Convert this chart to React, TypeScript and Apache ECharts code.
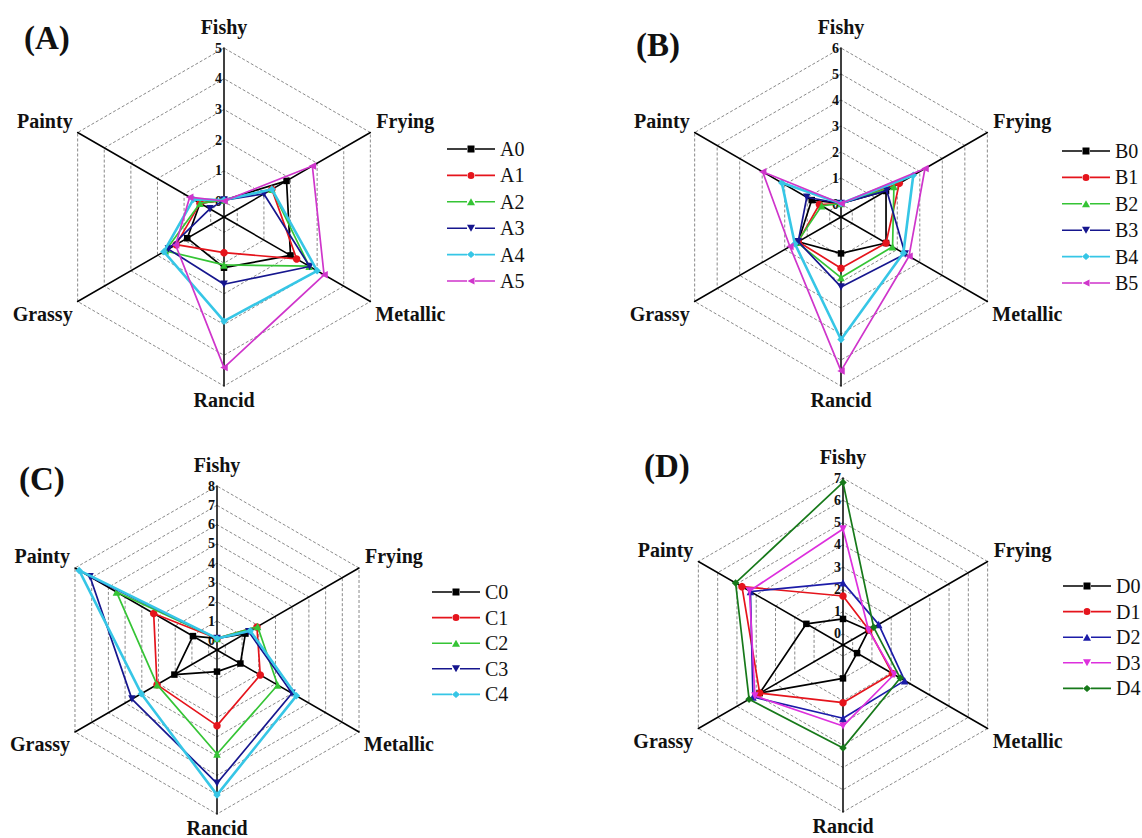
import React, { useEffect, useRef } from 'react';
import * as echarts from 'echarts';

// Attribute axes, clockwise from the top
const AXES = ['Fishy', 'Frying', 'Metallic', 'Rancid', 'Grassy', 'Painty'];
const PANEL_LABELS = ['(A)', '(B)', '(C)', '(D)'];
const AXIS_MAX = [5, 6, 8, 7];
const AXIS_MIN = -0.5;

// values in AXES order: Fishy, Frying, Metallic, Rancid, Grassy, Painty
const A_NAMES = ['A0', 'A1', 'A2', 'A3', 'A4', 'A5'];
const A0 = [0.05, 1.85, 2.0, 1.15, 0.88, 0.4];
const A1 = [0.05, 1.3, 2.23, 0.66, 1.3, 0.4];
const A2 = [0.05, 1.3, 2.7, 1.06, 1.7, 0.4];
const A3 = [0.05, 1.0, 2.72, 1.69, 1.59, 0.03];
const A4 = [0.05, 1.3, 3.0, 2.89, 1.76, 0.65];
const A5 = [0.02, 2.82, 3.26, 4.4, 1.32, 0.79];

const B_NAMES = ['B0', 'B1', 'B2', 'B3', 'B4', 'B5'];
const B0 = [0.02, 1.5, 1.5, 0.9, 1.4, 0.8];
const B1 = [0.02, 2.09, 1.5, 1.47, 1.4, 0.46];
const B2 = [0.02, 1.85, 1.79, 1.83, 1.45, 0.36];
const B3 = [0.02, 1.53, 2.35, 2.19, 1.4, 1.02];
const B4 = [0.02, 2.71, 2.27, 4.21, 1.55, 2.13];
const B5 = [0.02, 3.23, 2.52, 5.42, 1.77, 2.98];

const C_NAMES = ['C0', 'C1', 'C2', 'C3', 'C4'];
const C0 = [0.1, 1.2, 0.9, 0.62, 2.05, 0.94];
const C1 = [0.1, 1.89, 2.09, 3.42, 3.09, 3.29];
const C2 = [0.1, 1.93, 3.13, 4.89, 3.09, 5.52];
const C3 = [0.1, 1.4, 3.99, 6.41, 4.59, 7.1];
const C4 = [0.1, 1.49, 4.25, 7.01, 4.03, 7.75];

const D_NAMES = ['D0', 'D1', 'D2', 'D3', 'D4'];
const D0 = [0.67, 0.83, 0.23, 1.0, 3.82, 1.4];
const D1 = [1.7, 0.85, 2.06, 2.09, 3.82, 4.74];
const D2 = [2.3, 1.35, 2.7, 2.79, 4.17, 4.3];
const D3 = [4.71, 0.83, 2.15, 3.14, 4.07, 4.35];
const D4 = [6.8, 1.09, 2.47, 4.13, 4.37, 5.07];

const PANEL_NAMES = [A_NAMES, B_NAMES, C_NAMES, D_NAMES];
const PANEL_VALUES = [
  [A0, A1, A2, A3, A4, A5],
  [B0, B1, B2, B3, B4, B5],
  [C0, C1, C2, C3, C4],
  [D0, D1, D2, D3, D4],
];

// ---- styles / layout ----
const BLACK = '#000000';
const RED = '#e5141c';
const GREEN = '#35c435';
const NAVY = '#16168e';
const CYAN = '#36c6e6';
const MAGENTA = '#cf35cb';
const BLUE_D = '#1c1ca8';
const MAGENTA_D = '#dd30dd';
const DKGREEN = '#17791a';

const COLORS_ABC = [BLACK, RED, GREEN, NAVY, CYAN, MAGENTA];
const COLORS_D = [BLACK, RED, BLUE_D, MAGENTA_D, DKGREEN];
const SYMS_ABC = ['square', 'circle', 'up', 'down', 'diamond', 'left'];
const SYMS_D = ['square', 'circle', 'up', 'down', 'diamond'];
const PANEL_COLORS = [COLORS_ABC, COLORS_ABC, COLORS_ABC, COLORS_D];
const PANEL_SYMS = [SYMS_ABC, SYMS_ABC, SYMS_ABC, SYMS_D];

const LAYOUT = [
  { cx: 224, cy: 217, r: 169, title: [24, 21], legend: [447, 139], gap: 6.4 },
  { cx: 841, cy: 217, r: 169, title: [636, 28], legend: [1062, 141], gap: 6.4 },
  { cx: 217, cy: 650, r: 164, title: [19, 462], legend: [432, 582], gap: 5.6 },
  { cx: 843, cy: 645, r: 167, title: [644, 449], legend: [1063, 576], gap: 5.6 },
];

const SERIF = '"Liberation Serif", "Times New Roman", serif';

const SERIES_SYMBOL: Record<string, string> = {
  square: 'rect',
  circle: 'circle',
  up: 'triangle',
  down: 'path://M0,0 L10,0 L5,9 Z',
  diamond: 'diamond',
  left: 'path://M0,5 L9,0 L9,10 Z',
};

const LINE_PART = 'M0,2.7 H20 V4.3 H0 Z M28,2.7 H48 V4.3 H28 Z ';
const LEGEND_ICON: Record<string, string> = {
  square: 'path://' + LINE_PART + 'M20.5,0 H27.5 V7 H20.5 Z',
  circle: 'path://' + LINE_PART + 'M20.5,3.5 A3.5,3.5 0 1,1 27.5,3.5 A3.5,3.5 0 1,1 20.5,3.5 Z',
  up: 'path://' + LINE_PART + 'M24,0 L28,7 L20,7 Z',
  down: 'path://' + LINE_PART + 'M20,0 L28,0 L24,7 Z',
  diamond: 'path://' + LINE_PART + 'M24,0 L28,3.5 L24,7 L20,3.5 Z',
  left: 'path://' + LINE_PART + 'M20.5,3.5 L27.5,0 L27.5,7 Z',
};

// ECharts places radar indicators counter-clockwise from the top
const CCW_ORDER = [0, 5, 4, 3, 2, 1];

function buildOption() {
  const radar: any[] = [];
  const series: any[] = [];
  const legend: any[] = [];
  const title: any[] = [];
  const graphic: any[] = [];

  LAYOUT.forEach((L, p) => {
    const max = AXIS_MAX[p];
    radar.push({
      center: [L.cx, L.cy],
      radius: L.r,
      startAngle: 90,
      shape: 'polygon',
      splitNumber: Math.round((max - AXIS_MIN) / 0.5),
      axisName: { show: false },
      axisLine: { lineStyle: { color: '#000', width: 1.5 } },
      axisTick: { show: false },
      splitLine: {
        lineStyle: { color: ['rgba(0,0,0,0)', '#7c7c7c'], type: [3, 2], width: 0.9 },
      },
      splitArea: { show: false },
      axisLabel: { show: false },
      indicator: CCW_ORDER.map((k) => ({
        name: AXES[k],
        min: AXIS_MIN,
        max,
        axisLabel:
          k === 0
            ? {
                show: true,
                margin: 2,
                fontFamily: SERIF,
                fontWeight: 'bold',
                fontSize: 14,
                color: '#111',
                formatter: (v: number) =>
                  Math.abs(v - Math.round(v)) < 1e-6 && v > -0.1 ? String(Math.round(v)) : '',
              }
            : { show: false },
      })),
    });

    const names = PANEL_NAMES[p];
    const vals = PANEL_VALUES[p];
    const colors = PANEL_COLORS[p];
    const syms = PANEL_SYMS[p];
    names.forEach((n, i) => {
      const isCyan = colors[i] === CYAN;
      series.push({
        type: 'radar',
        name: n,
        radarIndex: p,
        symbol: SERIES_SYMBOL[syms[i]],
        symbolSize: syms[i] === 'square' ? 6.5 : 7.5,
        lineStyle: { color: colors[i], width: isCyan ? 2.6 : 1.7 },
        itemStyle: { color: colors[i] },
        data: [{ name: n, value: CCW_ORDER.map((k) => vals[i][k]) }],
        z: 2 + i,
      });
    });

    legend.push({
      orient: 'vertical',
      left: L.legend[0],
      top: L.legend[1],
      itemWidth: 48,
      itemHeight: 7,
      itemGap: L.gap,
      padding: 0,
      selectedMode: false,
      itemStyle: { borderWidth: 0 },
      textStyle: { fontFamily: SERIF, fontSize: 20, color: '#111', padding: [0, 0, 0, 0] },
      data: names.map((n, i) => ({ name: n, icon: LEGEND_ICON[syms[i]] })),
    });

    title.push({
      text: PANEL_LABELS[p],
      left: L.title[0],
      top: L.title[1],
      padding: 0,
      textStyle: { fontFamily: SERIF, fontWeight: 'bold', fontSize: 33, color: '#111' },
    });

    const sx = L.r * Math.cos(Math.PI / 6);
    const hy = L.r / 2;
    const spots: Record<string, [number, number, string, string]> = {
      Fishy: [L.cx, L.cy - L.r - 11, 'center', 'bottom'],
      Frying: [L.cx + sx + 6, L.cy - hy - 12, 'left', 'middle'],
      Metallic: [L.cx + sx + 5, L.cy + hy + 12, 'left', 'middle'],
      Rancid: [L.cx, L.cy + L.r + 4, 'center', 'top'],
      Grassy: [L.cx - sx - 5, L.cy + hy + 12, 'right', 'middle'],
      Painty: [L.cx - sx - 5, L.cy - hy - 12, 'right', 'middle'],
    };
    AXES.forEach((a) => {
      const s = spots[a];
      graphic.push({
        type: 'text',
        x: s[0],
        y: s[1],
        silent: true,
        style: {
          text: a,
          align: s[2],
          verticalAlign: s[3],
          fontFamily: SERIF,
          fontWeight: 'bold',
          fontSize: 20,
          fill: '#111',
        },
      });
    });
  });

  return {
    animation: false,
    backgroundColor: '#ffffff',
    title,
    legend,
    radar,
    series,
    graphic,
  };
}

export default function App() {
  const ref = useRef<HTMLDivElement>(null);
  useEffect(() => {
    if (!ref.current) return;
    const chart = echarts.init(ref.current, undefined, { renderer: 'svg' });
    chart.setOption(buildOption() as any);
    return () => chart.dispose();
  }, []);
  return (
    <div
      ref={ref}
      style={{ position: 'absolute', left: 0, top: 0, width: 1142, height: 838, background: '#fff' }}
    />
  );
}
